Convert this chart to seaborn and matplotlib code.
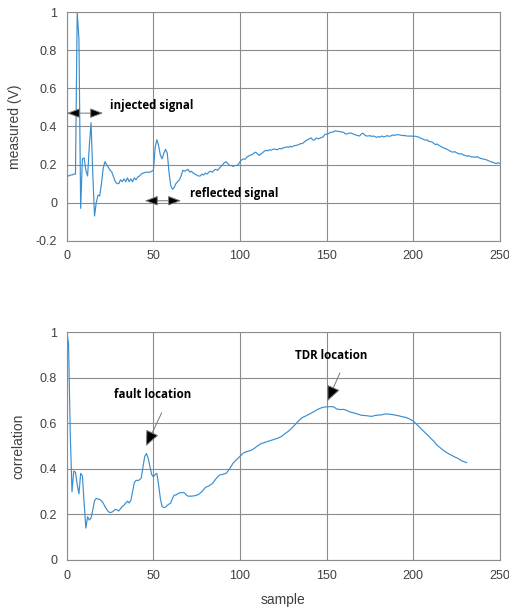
import numpy as np
import pandas as pd
import matplotlib
matplotlib.use("Agg")
import matplotlib.pyplot as plt
import seaborn as sns

# measured TDR signal, one value per sample 0..250
volts = [
    0.14, 0.14, 0.145, 0.145, 0.15, 0.15, 1.0, 0.86, -0.03, 0.23,
    0.235, 0.17, 0.14, 0.30, 0.42, 0.15, -0.07, 0.0, 0.04, 0.035,
    0.10, 0.18, 0.215, 0.20, 0.185, 0.17, 0.16, 0.135, 0.11, 0.10,
    0.10, 0.12, 0.11, 0.125, 0.11, 0.13, 0.11, 0.125, 0.11, 0.13,
    0.12, 0.135, 0.14, 0.15, 0.155, 0.158, 0.16, 0.16, 0.16, 0.165,
    0.17, 0.29, 0.33, 0.30, 0.25, 0.23, 0.26, 0.28, 0.26, 0.16,
    0.09, 0.07, 0.08, 0.10, 0.11, 0.12, 0.14, 0.17, 0.165, 0.17,
    0.175, 0.16, 0.165, 0.155, 0.15, 0.145, 0.14, 0.14, 0.15, 0.145,
    0.155, 0.15, 0.16, 0.165, 0.16, 0.17, 0.175, 0.17, 0.18, 0.19,
    0.20, 0.21, 0.215, 0.205, 0.195, 0.195, 0.19, 0.195, 0.195, 0.20,
    0.215, 0.225, 0.23, 0.228, 0.24, 0.245, 0.25, 0.252, 0.26, 0.265,
    0.258, 0.248, 0.255, 0.262, 0.27, 0.275, 0.272, 0.278, 0.275, 0.28,
    0.282, 0.278, 0.28, 0.285, 0.282, 0.288, 0.29, 0.293, 0.29, 0.296,
    0.293, 0.298, 0.30, 0.302, 0.305, 0.31, 0.31, 0.318, 0.325, 0.33,
    0.335, 0.34, 0.33, 0.328, 0.34, 0.335, 0.338, 0.342, 0.345, 0.358,
    0.36, 0.362, 0.368, 0.37, 0.372, 0.377, 0.375, 0.374, 0.372, 0.371,
    0.368, 0.36, 0.362, 0.365, 0.366, 0.362, 0.358, 0.355, 0.352, 0.35,
    0.36, 0.365, 0.355, 0.35, 0.35, 0.352, 0.348, 0.35, 0.346, 0.343,
    0.347, 0.344, 0.35, 0.345, 0.348, 0.352, 0.348, 0.35, 0.355, 0.353,
    0.356, 0.357, 0.356, 0.354, 0.352, 0.353, 0.35, 0.35, 0.349, 0.35,
    0.348, 0.349, 0.347, 0.345, 0.34, 0.336, 0.332, 0.328, 0.33, 0.322,
    0.32, 0.318, 0.31, 0.305, 0.308, 0.30, 0.295, 0.29, 0.286, 0.283,
    0.278, 0.272, 0.268, 0.265, 0.268, 0.262, 0.258, 0.255, 0.257, 0.25,
    0.248, 0.244, 0.247, 0.242, 0.24, 0.24, 0.238, 0.242, 0.236, 0.232,
    0.23, 0.228, 0.226, 0.222, 0.218, 0.214, 0.212, 0.208, 0.205, 0.21,
    0.205,
]
samples = np.arange(len(volts))

# correlation curve
corr_sample = [
    0, 1, 2, 3, 4, 5, 6, 7, 8, 9, 10, 11, 12, 13, 14, 15, 16, 17, 18, 19,
    20, 21, 22, 23, 24, 25, 26, 27, 28, 29, 30, 31, 32, 33, 34, 35, 36, 37,
    38, 39, 40, 41, 42, 43, 44, 45, 46, 47, 48, 49, 50, 51, 52, 53, 54, 55,
    56, 57, 58, 59, 60, 61, 62, 63, 64, 65, 66, 67, 68, 69, 70,
    72, 74, 76, 78, 80, 82, 84, 86, 88, 90, 92, 94, 96, 98, 100,
    102, 104, 106, 108, 110, 112, 114, 116, 118, 120, 122, 124, 126, 128, 130,
    132, 134, 136, 138, 140, 142, 144, 146, 148, 150, 152, 154, 156, 158, 160,
    162, 164, 166, 168, 170, 172, 174, 176, 178, 180, 182, 184, 186, 188, 190,
    192, 194, 196, 198, 200, 202, 204, 206, 208, 210, 212, 214, 216, 218, 220,
    222, 224, 226, 228, 230, 231,
]
corr_value = [
    1.0, 0.95, 0.55, 0.30, 0.39, 0.385, 0.33, 0.29, 0.38, 0.37,
    0.25, 0.14, 0.19, 0.175, 0.185, 0.22, 0.26, 0.27, 0.268, 0.265,
    0.26, 0.25, 0.235, 0.222, 0.212, 0.208, 0.21, 0.215, 0.222, 0.22,
    0.215, 0.225, 0.235, 0.24, 0.25, 0.258, 0.25, 0.262, 0.30, 0.34,
    0.35, 0.348, 0.352, 0.36, 0.41, 0.455, 0.467, 0.445, 0.41, 0.375,
    0.365, 0.375, 0.38, 0.33, 0.27, 0.235, 0.23, 0.232, 0.24, 0.245,
    0.25, 0.27, 0.285, 0.285, 0.29, 0.295, 0.295, 0.296, 0.294, 0.285,
    0.28,
    0.28, 0.282, 0.287, 0.30, 0.318, 0.325, 0.335, 0.355, 0.372, 0.376,
    0.38, 0.40, 0.425, 0.44, 0.455,
    0.47, 0.476, 0.48, 0.488, 0.50, 0.51, 0.515, 0.52, 0.525, 0.53,
    0.535, 0.542, 0.555, 0.565, 0.58,
    0.595, 0.612, 0.625, 0.632, 0.64, 0.648, 0.657, 0.665, 0.67, 0.672,
    0.673, 0.672, 0.662, 0.66, 0.661,
    0.655, 0.648, 0.645, 0.64, 0.635, 0.634, 0.632, 0.63, 0.634, 0.636,
    0.637, 0.641, 0.64, 0.638, 0.635,
    0.632, 0.628, 0.625, 0.618, 0.61, 0.595, 0.58, 0.565, 0.55, 0.535,
    0.52, 0.502, 0.49, 0.478, 0.468,
    0.46, 0.452, 0.445, 0.435, 0.43, 0.427,
]

top_df = pd.DataFrame({"sample": samples, "measured": volts})
bot_df = pd.DataFrame({"sample": corr_sample, "correlation": corr_value})

sns.set_theme(style="white")
plt.rcParams["font.family"] = ["Liberation Sans", "DejaVu Sans"]

line_col = "#3a8ed0"
grid_col = "#8c8c8c"
txt_col = "#404040"

fig = plt.figure(figsize=(5.1, 6.11), dpi=100)
ax1 = fig.add_axes([0.131, 0.606, 0.849, 0.374])
ax2 = fig.add_axes([0.131, 0.0835, 0.849, 0.373])

sns.lineplot(data=top_df, x="sample", y="measured", ax=ax1, color=line_col, linewidth=0.85)
sns.lineplot(data=bot_df, x="sample", y="correlation", ax=ax2, color=line_col, linewidth=0.85)

for ax in (ax1, ax2):
    ax.set_xlim(0, 250)
    ax.set_xticks([0, 50, 100, 150, 200, 250])
    ax.grid(True, color=grid_col, linewidth=0.8)
    ax.set_axisbelow(True)
    for s in ax.spines.values():
        s.set_color(grid_col)
        s.set_linewidth(0.8)
    ax.tick_params(axis="both", length=0, labelsize=9, labelcolor=txt_col, pad=7)

ax1.set_ylim(-0.2, 1.0)
ax1.set_yticks([-0.2, 0, 0.2, 0.4, 0.6, 0.8, 1.0])
ax1.set_yticklabels(["-0.2", "0", "0.2", "0.4", "0.6", "0.8", "1"])
ax1.set_xlabel("")
ax1.set_ylabel("measured (V)", fontsize=10, color=txt_col, labelpad=10)

ax2.set_ylim(0, 1.0)
ax2.set_yticks([0, 0.2, 0.4, 0.6, 0.8, 1.0])
ax2.set_yticklabels(["0", "0.2", "0.4", "0.6", "0.8", "1"])
ax2.set_xlabel("sample", fontsize=10, color=txt_col, labelpad=8)
ax2.set_ylabel("correlation", fontsize=10, color=txt_col, labelpad=10)

ann_font = dict(fontsize=8.3, fontweight="bold", color="black", family=["Open Sans", "DejaVu Sans"])
dbl = dict(arrowstyle="<|-|>,head_length=0.8,head_width=0.3", fc="black", ec="#777777",
           lw=0.7, mutation_scale=10, shrinkA=0, shrinkB=0)
one = dict(arrowstyle="-|>,head_length=0.95,head_width=0.42", fc="black", ec="#777777",
           lw=0.7, mutation_scale=10, shrinkA=0, shrinkB=0)

ax1.annotate("", xy=(0, 0.47), xytext=(21, 0.47), arrowprops=dbl)
ax1.text(25, 0.51, "injected signal", va="center", ha="left", **ann_font)
ax1.annotate("", xy=(45, 0.01), xytext=(66, 0.01), arrowprops=dbl)
ax1.text(71, 0.048, "reflected signal", va="center", ha="left", **ann_font)

ax2.annotate("", xy=(45.7, 0.50), xytext=(54.8, 0.646), arrowprops=one)
ax2.text(49.5, 0.724, "fault location", va="center", ha="center", **ann_font)
ax2.annotate("", xy=(150.5, 0.697), xytext=(157.7, 0.821), arrowprops=one)
ax2.text(152.6, 0.899, "TDR location", va="center", ha="center", **ann_font)

fig.savefig("out.png", dpi=100, facecolor="white")
